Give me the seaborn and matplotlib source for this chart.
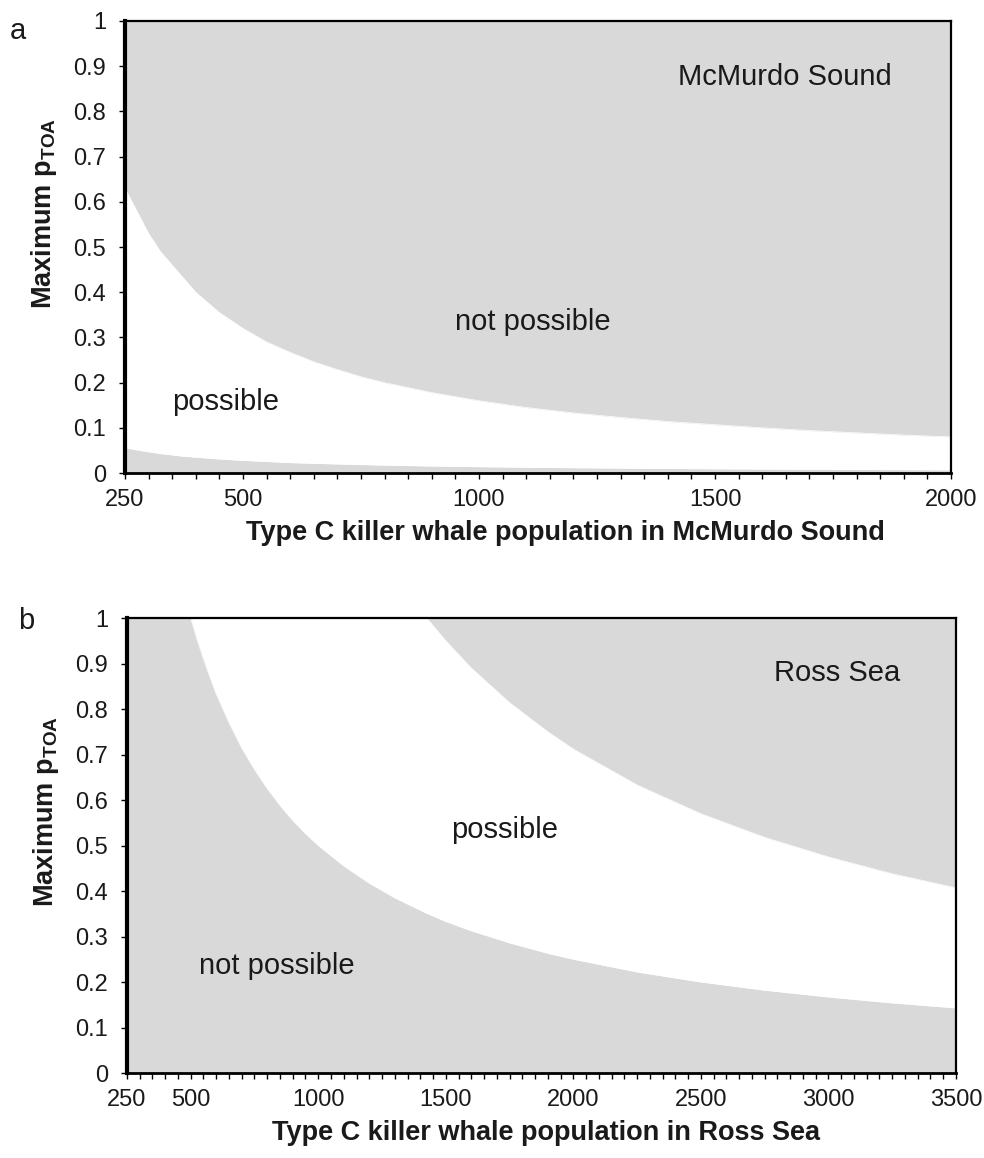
import numpy as np
import seaborn as sns
import matplotlib.pyplot as plt
from matplotlib.ticker import FixedLocator, MultipleLocator, FuncFormatter

# panel a: McMurdo Sound (boundaries of the "possible" band)
mcm_pop = [250, 275, 300, 325, 350, 375, 400, 450, 500, 550, 600, 650, 700, 750, 800, 900,
           1000, 1100, 1200, 1300, 1400, 1500, 1600, 1700, 1800, 1900, 2000]
mcm_upper = [0.63, 0.58, 0.53, 0.49, 0.46, 0.43, 0.40, 0.355, 0.32, 0.29, 0.267, 0.246, 0.229, 0.213, 0.20, 0.178,
             0.16, 0.145, 0.133, 0.123, 0.114, 0.107, 0.10, 0.094, 0.089, 0.084, 0.08]
mcm_lower = [0.056, 0.051, 0.047, 0.043, 0.040, 0.037, 0.035, 0.031, 0.028, 0.0255, 0.023, 0.0215, 0.020, 0.0187, 0.0175, 0.0155,
             0.014, 0.0127, 0.0117, 0.0108, 0.010, 0.0093, 0.0088, 0.0082, 0.0078, 0.0074, 0.007]
mcm_ticks = [250, 500, 1000, 1500, 2000]

# panel b: Ross Sea
ross_pop = [500, 525, 550, 575, 600, 650, 700, 750, 800, 850, 900, 950, 1000, 1100, 1200, 1300,
            1425, 1500, 1600, 1750, 1900, 2000, 2250, 2500, 2750, 3000, 3250, 3500]
ross_upper = [1.0, 1.0, 1.0, 1.0, 1.0, 1.0, 1.0, 1.0, 1.0, 1.0, 1.0, 1.0, 1.0, 1.0, 1.0, 1.0,
              1.0, 0.95, 0.89, 0.814, 0.75, 0.712, 0.633, 0.57, 0.518, 0.475, 0.438, 0.407]
ross_lower = [1.0, 0.952, 0.91, 0.87, 0.833, 0.77, 0.714, 0.667, 0.625, 0.588, 0.555, 0.526, 0.50, 0.455, 0.417, 0.385,
              0.351, 0.333, 0.3125, 0.286, 0.263, 0.25, 0.222, 0.20, 0.182, 0.167, 0.154, 0.143]
ross_ticks = [250, 500, 1000, 1500, 2000, 2500, 3000, 3500]

gray = '#d9d9d9'
ink = '#1a1a1a'

sns.set_style("ticks")
plt.rcParams['font.family'] = ['Liberation Sans', 'DejaVu Sans']
plt.rcParams['mathtext.fontset'] = 'custom'
plt.rcParams['mathtext.rm'] = 'Liberation Sans'

fig = plt.figure(figsize=(9.84, 11.58), dpi=100)
ax_a = fig.add_axes([0.127, 0.5915, 0.8395, 0.3904])
ax_b = fig.add_axes([0.129, 0.0734, 0.8425, 0.3929])


def style_axis(ax, xmax, ticks, xlabel, xlabel_x):
    ax.set_facecolor(gray)
    ax.set_xlim(250, xmax)
    ax.set_ylim(0, 1)
    ax.xaxis.set_major_locator(FixedLocator(ticks))
    ax.xaxis.set_minor_locator(MultipleLocator(50))
    ax.yaxis.set_major_locator(MultipleLocator(0.1))
    ax.yaxis.set_major_formatter(FuncFormatter(lambda v, p: f"{v:g}"))
    ax.tick_params(axis='both', which='major', direction='out', length=4.5, width=1.0,
                   color='black', labelsize=17, labelcolor=ink)
    ax.tick_params(axis='x', which='minor', direction='out', length=4.5, width=1.0, color='black')
    ax.tick_params(axis='x', which='major', pad=7)
    ax.tick_params(axis='y', which='major', pad=9)
    for side in ['top', 'right', 'bottom', 'left']:
        ax.spines[side].set_visible(True)
        ax.spines[side].set_color('black')
    ax.spines['left'].set_linewidth(3.0)
    ax.spines['bottom'].set_linewidth(2.0)
    ax.spines['top'].set_linewidth(1.6)
    ax.spines['right'].set_linewidth(1.6)
    ax.set_xlabel(xlabel, fontsize=19.5, fontweight='bold', color=ink)
    ax.xaxis.set_label_coords(xlabel_x, -0.104)
    ax.xaxis.label.set_va('top')
    ax.set_ylabel(r'Maximum p$_\mathregular{TOA}$', fontsize=19.5, fontweight='bold', color=ink)
    ax.yaxis.set_label_coords(-0.08, 0.575)
    ax.grid(False)


# panel a
ax_a.fill_between(mcm_pop, mcm_lower, mcm_upper, color='white', linewidth=0)
sns.lineplot(x=mcm_pop, y=mcm_upper, ax=ax_a, color='white', linewidth=0.5)
sns.lineplot(x=mcm_pop, y=mcm_lower, ax=ax_a, color='white', linewidth=0.5)
style_axis(ax_a, 2000, mcm_ticks, 'Type C killer whale population in McMurdo Sound', 0.533)
ax_a.text(1648, 0.875, 'McMurdo Sound', fontsize=21, ha='center', va='center', color=ink)
ax_a.text(1115, 0.335, 'not possible', fontsize=21, ha='center', va='center', color=ink)
ax_a.text(464, 0.158, 'possible', fontsize=21, ha='center', va='center', color=ink)

# panel b
ax_b.fill_between(ross_pop, ross_lower, ross_upper, color='white', linewidth=0)
sns.lineplot(x=ross_pop, y=ross_upper, ax=ax_b, color='white', linewidth=0.5)
sns.lineplot(x=ross_pop, y=ross_lower, ax=ax_b, color='white', linewidth=0.5)
style_axis(ax_b, 3500, ross_ticks, 'Type C killer whale population in Ross Sea', 0.505)
ax_b.text(3033, 0.88, 'Ross Sea', fontsize=21, ha='center', va='center', color=ink)
ax_b.text(1732, 0.535, 'possible', fontsize=21, ha='center', va='center', color=ink)
ax_b.text(838, 0.235, 'not possible', fontsize=21, ha='center', va='center', color=ink)

fig.text(0.010, 0.985, 'a', fontsize=21, ha='left', va='top', color=ink)
fig.text(0.018, 0.476, 'b', fontsize=21, ha='left', va='top', color=ink)

fig.savefig('out.png', dpi=100)
